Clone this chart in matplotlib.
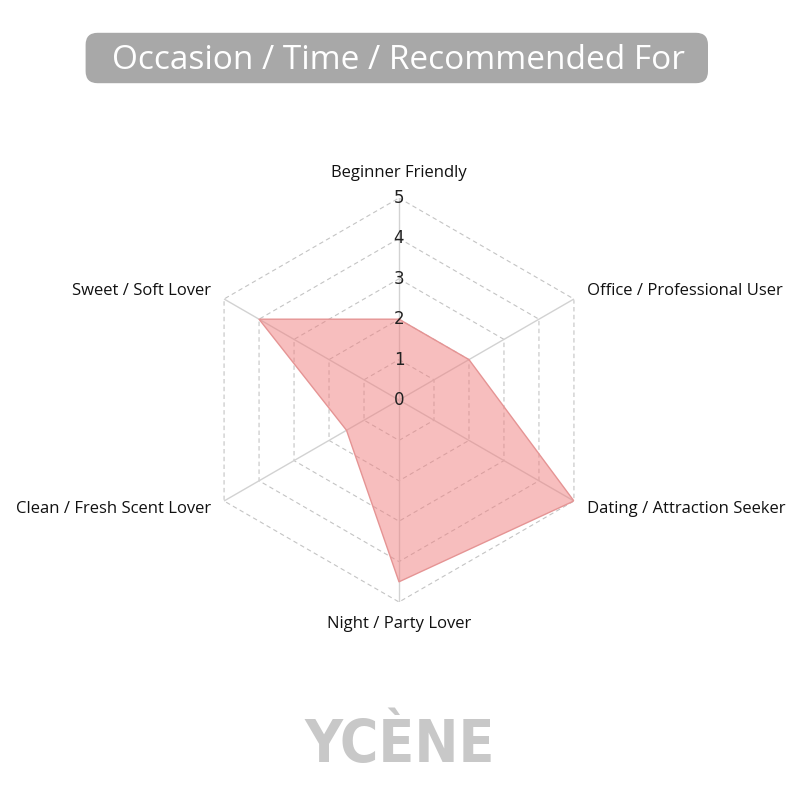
import numpy as np
import matplotlib
matplotlib.use("Agg")
import matplotlib.pyplot as plt
from matplotlib.patches import FancyBboxPatch
from matplotlib import font_manager

categories = ["Beginner Friendly", "Office / Professional User", "Dating / Attraction Seeker",
              "Night / Party Lover", "Clean / Fresh Scent Lover", "Sweet / Soft Lover"]
values = [2, 2, 5, 4.5, 1.5, 4]
rticks = [0, 1, 2, 3, 4, 5]
title = "Occasion / Time / Recommended For"
brand = "YCÈNE"

cond = [f for f in font_manager.fontManager.ttflist
        if ("Condensed" in f.fname or "Narrow" in f.fname) and f.weight in (700, "bold")]
brand_font = cond[0].fname if cond else None

fig = plt.figure(figsize=(8, 8), dpi=100)
fig.patch.set_facecolor("white")

box = FancyBboxPatch((0.107, 0.896), 0.778, 0.063, boxstyle="round,pad=0,rounding_size=0.015",
                     transform=fig.transFigure, facecolor="#a8a8a8", edgecolor="none")
fig.patches.append(box)
fig.text(0.4975, 0.9245, title, ha="center", va="center", color="white",
         fontsize=24, family=["Open Sans", "DejaVu Sans"])

ax = fig.add_axes([0.49875 - 0.2525, 0.5 - 0.2525, 0.505, 0.505], projection="polar")
ax.set_theta_offset(np.pi / 2)
ax.set_theta_direction(-1)
ax.set_ylim(0, 5)
ax.grid(False)
ax.spines["polar"].set_visible(False)
ax.set_xticks([])
ax.set_yticks([])
ax.patch.set_alpha(0)

n = len(categories)
angles = np.linspace(0, 2 * np.pi, n, endpoint=False)
closed = np.concatenate([angles, angles[:1]])

for r in rticks[1:]:
    ax.plot(closed, [r] * (n + 1), color="#c4c4c4", lw=0.8, ls=(0, (4, 3)), zorder=1)
for a in angles:
    ax.plot([a, a], [0, 5], color="#d2d2d2", lw=1.0, zorder=1)

vals = np.array(values + values[:1])
ax.fill(closed, vals, facecolor="#f07f7f", alpha=0.5, edgecolor="none", zorder=2)
ax.plot(closed, vals, color="#e59494", lw=1.0, zorder=3)

for r in rticks:
    ax.text(0, r, str(r), ha="center", va="center", fontsize=12, color="#222222",
            zorder=4, clip_on=False)

lab_font = ["Open Sans", "DejaVu Sans"]
for a, c in zip(angles, categories):
    s, co = np.sin(a), np.cos(a)
    if abs(s) < 1e-6:
        r = 5.62 if co > 0 else 5.55
        ax.text(a, r, c, ha="center", va="center", fontsize=12, color="#111111",
                family=lab_font, clip_on=False)
    else:
        ha = "left" if s > 0 else "right"
        pad = "   "
        txt = pad + c if ha == "left" else c + pad
        ax.text(a, 5.0, txt, ha=ha, va="bottom" if co > 0 else "top",
                fontsize=12, color="#111111", family=lab_font, clip_on=False)

if brand_font:
    fig.text(0.5, 0.068, brand, ha="center", va="center", color="#c8c8c8",
             fontproperties=font_manager.FontProperties(fname=brand_font, size=42))
else:
    fig.text(0.5, 0.068, brand, ha="center", va="center", color="#c8c8c8", fontsize=38,
             fontweight="bold", family=["DejaVu Sans"])

fig.savefig("out.png", dpi=100, facecolor="white")
